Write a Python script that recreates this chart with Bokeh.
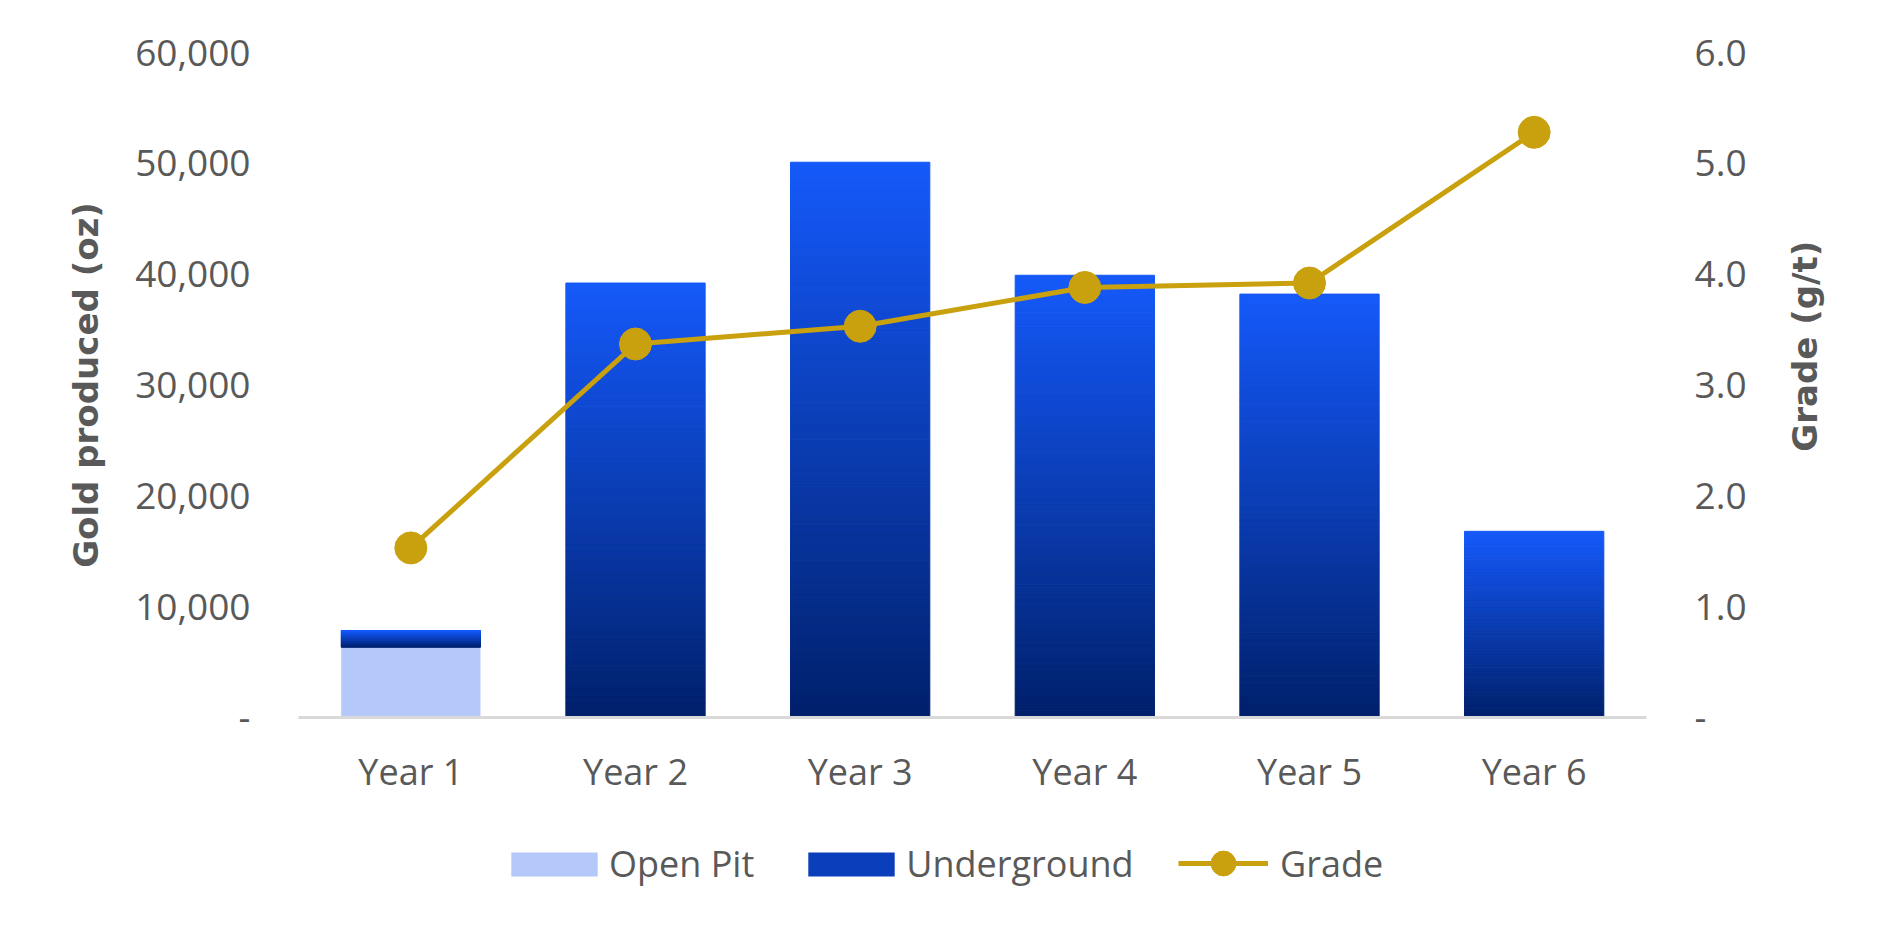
from math import pi

from bokeh.embed import file_html
from bokeh.layouts import column, row
from bokeh.models import (ColumnDataSource, CustomJSTickFormatter, FixedTicker,
                          Label, Legend, LegendItem, LinearAxis, Range1d)
from bokeh.plotting import figure
from bokeh.resources import INLINE

# production per year (oz) and grade (g/t)
years = ["Year 1", "Year 2", "Year 3", "Year 4", "Year 5", "Year 6"]
open_pit = [6350, 0, 0, 0, 0, 0]
underground = [1500, 39200, 50100, 39900, 38200, 16800]
grade = [1.53, 3.37, 3.53, 3.88, 3.92, 5.28]

oz_ticks = [0, 10000, 20000, 30000, 40000, 50000, 60000]
grade_ticks = [0, 1, 2, 3, 4, 5, 6]

GREY = "#595959"
GOLD = "#C9A00E"
PIT = "#B4C8FA"
UG_MID = "#0B3EBA"
TOP = (0x15, 0x59, 0xFA)
BOT = (0x00, 0x20, 0x6B)
STEPS = 60
TICK_FONT = "Open Sans"
TITLE_FONT = "DejaVu Sans"


def shade(f):
    r, g, b = (int(round(lo + (hi - lo) * f)) for lo, hi in zip(BOT, TOP))
    return "#%02x%02x%02x" % (r, g, b)


# each underground bar is cut into thin slices to fake Excel's gradient fill
sx, sb, st, sc = [], [], [], []
for yr, op, ug in zip(years, open_pit, underground):
    lo, hi = op, op + ug
    for k in range(STEPS):
        sx.append(yr)
        sb.append(lo + (hi - lo) * k / STEPS)
        st.append(lo + (hi - lo) * (k + 1) / STEPS)
        sc.append(shade((k + 0.5) / STEPS))

src = ColumnDataSource(dict(years=years, open_pit=open_pit, underground=underground, grade=grade))
slices = ColumnDataSource(dict(x=sx, bottom=sb, top=st, color=sc))

p = figure(x_range=years, y_range=Range1d(0, 60000), width=1766, height=800,
           output_backend="svg", toolbar_location=None,
           min_border_left=298, min_border_right=120, min_border_top=52, min_border_bottom=83)
p.extra_y_ranges = {"grade": Range1d(0, 6)}
p.outline_line_color = None
p.xgrid.visible = False
p.ygrid.visible = False

p.vbar(x="years", top="open_pit", bottom=0, width=0.62, source=src,
       fill_color=PIT, line_color=None)
p.vbar(x="x", bottom="bottom", top="top", width=0.62, source=slices,
       fill_color="color", line_color="color", line_width=1)
p.line(x="years", y="grade", source=src, y_range_name="grade", line_color=GOLD, line_width=5)
p.scatter(x="years", y="grade", source=src, y_range_name="grade",
          size=32, fill_color=GOLD, line_color=GOLD)

# axes
xa = p.xaxis[0]
xa.axis_line_color = "#D9D9D9"
xa.axis_line_width = 3
xa.major_tick_line_color = None
xa.minor_tick_line_color = None
xa.major_tick_out = 0
xa.major_label_text_font = TICK_FONT
xa.major_label_text_font_size = "36px"
xa.major_label_text_color = GREY
xa.major_label_standoff = 29

ax = p.yaxis[0]
ax.ticker = FixedTicker(ticks=oz_ticks)
ax.formatter = CustomJSTickFormatter(code="return tick == 0 ? '-' : tick.toLocaleString('en-US');")
ax.axis_label = "Gold produced (oz)"
ax.axis_label_standoff = 26
ax.axis_label_text_font = TITLE_FONT
ax.axis_label_text_font_style = "bold"
ax.axis_label_text_font_size = "34px"
ax.axis_label_text_color = GREY

gax = LinearAxis(y_range_name="grade", ticker=FixedTicker(ticks=grade_ticks),
                 formatter=CustomJSTickFormatter(code="return tick == 0 ? '-' : tick.toFixed(1);"))
p.add_layout(gax, "right")

for a in (ax, gax):
    a.axis_line_color = None
    a.major_tick_line_color = None
    a.minor_tick_line_color = None
    a.major_tick_out = 0
    a.major_label_text_font = TICK_FONT
    a.major_label_text_font_size = "37px"
    a.major_label_text_color = GREY
    a.major_label_standoff = 48

# narrow strip at the right for the secondary title (Excel put it a bit above centre)
tfig = figure(width=102, height=800, x_range=(0, 1), y_range=Range1d(0, 6),
              output_backend="svg", toolbar_location=None, x_axis_type=None, y_axis_type=None,
              min_border_left=0, min_border_right=0, min_border_top=52, min_border_bottom=83)
tfig.outline_line_color = None
tfig.grid.visible = False
tfig.add_layout(Label(x=0.38, y=3.35, text="Grade (g/t)", angle=pi / 2,
                      text_align="center", text_baseline="middle",
                      text_font=TITLE_FONT, text_font_style="bold",
                      text_font_size="34px", text_color=GREY))

# legend strip under the chart; its y range lies far above the data,
# so the key renderers only show up in the legend
leg = figure(width=1868, height=120, x_range=p.x_range, y_range=Range1d(200000, 260000),
             output_backend="svg", toolbar_location=None, x_axis_type=None, y_axis_type=None,
             min_border_left=298, min_border_right=222, min_border_top=0, min_border_bottom=0)
leg.outline_line_color = None
leg.grid.visible = False
k_pit = leg.vbar(x="years", top="open_pit", bottom=0, width=0.62, source=src,
                 fill_color=PIT, line_color=None)
k_ug = leg.vbar(x="years", top="underground", bottom=0, width=0.62, source=src,
                fill_color=UG_MID, line_color=None)
k_line = leg.line(x="years", y="grade", source=src, line_color=GOLD, line_width=5)
k_pts = leg.scatter(x="years", y="grade", source=src, fill_color=GOLD, line_color=GOLD)

leg_style = dict(orientation="horizontal", padding=0, margin=0,
                 border_line_color=None, background_fill_alpha=0,
                 label_text_font=TICK_FONT, label_text_font_size="36px", label_text_color=GREY)
leg_a = Legend(items=[LegendItem(label="Open Pit", renderers=[k_pit]),
                      LegendItem(label="Underground", renderers=[k_ug])],
               location=(202, 32), glyph_width=108, glyph_height=30, spacing=43,
               label_standoff=1, **leg_style)
leg_b = Legend(items=[LegendItem(label="Grade", renderers=[k_line, k_pts])],
               location=(880, 26), glyph_width=90, glyph_height=62, spacing=54,
               label_standoff=12, **leg_style)
leg.add_layout(leg_a)
leg.add_layout(leg_b)

layout = column(row(p, tfig, spacing=0), leg, spacing=0)
open("out.html", "w").write(file_html(layout, INLINE))
